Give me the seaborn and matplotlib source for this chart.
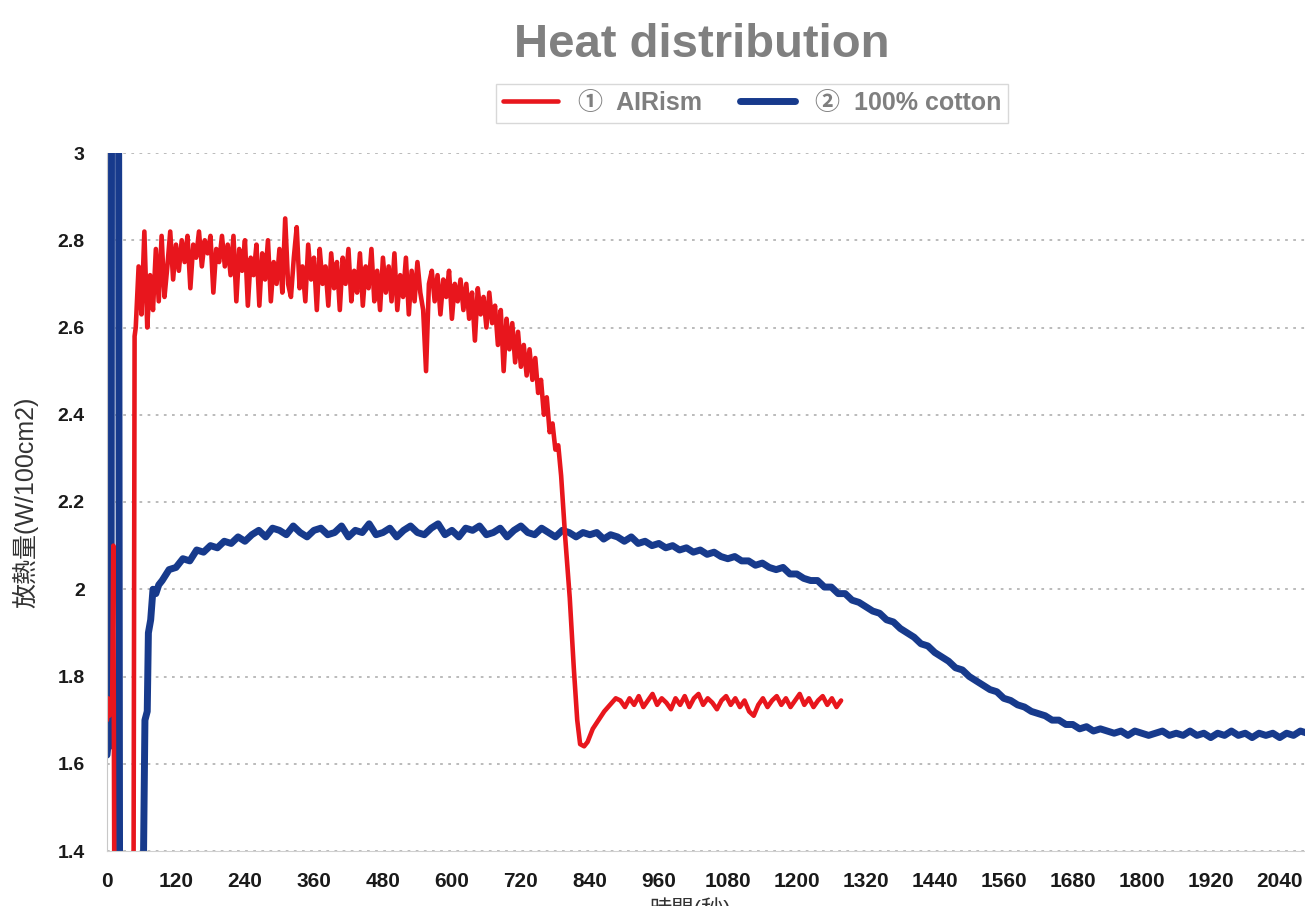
import numpy as np
import pandas as pd
import matplotlib
matplotlib.use("Agg")
import matplotlib.pyplot as plt
import seaborn as sns

# ---- data (time in s, heat release in W/100cm2) ----
# AIRism: start-up segment
red_start_t = [0, 2, 4, 6, 9, 11, 13, 46, 48]
red_start_v = [1.70, 1.75, 1.71, 1.72, 1.74, 2.10, 1.20, 1.20, 2.58]
# AIRism: noisy plateau, sampled every 5 s from t=50
red_plateau_v = [
    2.60, 2.74, 2.63, 2.82, 2.60, 2.72, 2.64, 2.78, 2.66, 2.81,
    2.67, 2.74, 2.82, 2.71, 2.79, 2.73, 2.80, 2.75, 2.81, 2.69,
    2.79, 2.76, 2.82, 2.74, 2.80, 2.77, 2.81, 2.68, 2.78, 2.75,
    2.81, 2.74, 2.79, 2.72, 2.81, 2.66, 2.78, 2.73, 2.80, 2.65,
    2.76, 2.72, 2.79, 2.65, 2.77, 2.71, 2.80, 2.66, 2.75, 2.70,
    2.78, 2.68, 2.85, 2.70, 2.67, 2.76, 2.83, 2.69, 2.74, 2.66,
    2.79, 2.71, 2.76, 2.64, 2.78, 2.70, 2.74, 2.65, 2.77, 2.69,
    2.75, 2.64, 2.76, 2.70, 2.78, 2.66, 2.73, 2.68, 2.77, 2.65,
    2.74, 2.69, 2.78, 2.66, 2.73, 2.64, 2.76, 2.68, 2.74, 2.66,
    2.77, 2.64, 2.72, 2.67, 2.76, 2.63, 2.73, 2.66, 2.75, 2.68,
    2.64, 2.50, 2.70, 2.73, 2.66, 2.72, 2.63, 2.71, 2.67, 2.73,
    2.62, 2.70, 2.66, 2.71, 2.64, 2.70, 2.62, 2.68, 2.57, 2.69,
    2.63, 2.67, 2.60, 2.68, 2.61, 2.65, 2.56, 2.64, 2.50, 2.62,
    2.55, 2.61, 2.52, 2.59, 2.51, 2.56, 2.49, 2.55, 2.48, 2.53,
    2.45, 2.48, 2.40, 2.44, 2.36, 2.38, 2.32, 2.33, 2.26,
]
# AIRism: the drop
red_drop_t = [797, 805, 812, 818, 823, 830, 836, 845, 855, 865, 875, 885]
red_drop_v = [2.12, 1.98, 1.82, 1.70, 1.645, 1.64, 1.65, 1.68, 1.70, 1.72, 1.735, 1.75]
# AIRism: low level, sampled every 8 s from t=893
red_flat_v = [
    1.745, 1.73, 1.75, 1.735, 1.755, 1.73, 1.745, 1.76, 1.735, 1.75,
    1.74, 1.725, 1.75, 1.735, 1.755, 1.73, 1.75, 1.76, 1.735, 1.75,
    1.74, 1.725, 1.745, 1.755, 1.735, 1.75, 1.73, 1.745, 1.72, 1.71,
    1.735, 1.75, 1.73, 1.745, 1.755, 1.735, 1.75, 1.73, 1.745, 1.76,
    1.735, 1.75, 1.73, 1.745, 1.755, 1.735, 1.75, 1.73, 1.745,
]

# 100% cotton: start-up segment
blue_start_t = [0, 3, 5, 7, 8, 20, 22, 62, 66, 70, 72, 76, 80, 85, 90]
blue_start_v = [1.62, 1.66, 1.64, 1.69, 3.30, 3.30, 1.20, 1.20, 1.70, 1.72,
                1.90, 1.93, 2.00, 1.99, 2.01]
# 100% cotton: sampled every 12 s from t=96
blue_main_v = [
    2.02, 2.045, 2.05, 2.07, 2.065, 2.09, 2.085, 2.10, 2.095, 2.11,
    2.105, 2.12, 2.11,
    2.125, 2.135, 2.12, 2.14, 2.135, 2.125, 2.145, 2.13, 2.12, 2.135,
    2.14, 2.125, 2.13, 2.145, 2.12, 2.135, 2.13, 2.15, 2.125, 2.13,
    2.14, 2.12, 2.135, 2.145, 2.13, 2.125, 2.14, 2.15, 2.125, 2.135,
    2.12, 2.14, 2.135, 2.145, 2.125, 2.13, 2.14, 2.12, 2.135, 2.145,
    2.13, 2.125, 2.14, 2.13, 2.12, 2.135, 2.13, 2.12, 2.13, 2.125,
    2.13, 2.115, 2.125, 2.12, 2.11, 2.12, 2.105, 2.11, 2.10, 2.105,
    2.095, 2.10, 2.09, 2.095, 2.085, 2.09, 2.08, 2.085, 2.075, 2.07,
    2.075, 2.065, 2.065, 2.055, 2.06, 2.05, 2.045, 2.05, 2.035, 2.035,
    2.025, 2.02, 2.02, 2.005, 2.005, 1.99, 1.99, 1.975, 1.97, 1.96,
    1.95, 1.945, 1.93, 1.925, 1.91, 1.90, 1.89, 1.875, 1.87, 1.855,
    1.845, 1.835, 1.82, 1.815, 1.80, 1.79, 1.78, 1.77, 1.765, 1.75,
    1.745, 1.735, 1.73, 1.72, 1.715, 1.71, 1.70, 1.70, 1.69, 1.69,
    1.68, 1.685, 1.675, 1.68, 1.675, 1.67, 1.675, 1.665, 1.675, 1.67,
    1.665, 1.67, 1.675, 1.665, 1.67, 1.665, 1.675, 1.665, 1.67, 1.66,
    1.67, 1.665, 1.675, 1.665, 1.67, 1.66, 1.67, 1.665, 1.67, 1.66,
    1.67, 1.665, 1.675, 1.67,
]

x_ticks = list(range(0, 2041, 120))
y_ticks = [1.4, 1.6, 1.8, 2.0, 2.2, 2.4, 2.6, 2.8, 3.0]
y_ticklabels = ["1.4", "1.6", "1.8", "2", "2.2", "2.4", "2.6", "2.8", "3"]

red_t = (red_start_t + list(50 + 5 * np.arange(len(red_plateau_v)))
         + red_drop_t + list(893 + 8 * np.arange(len(red_flat_v))))
red_v = red_start_v + red_plateau_v + red_drop_v + red_flat_v
blue_t = blue_start_t + list(96 + 12 * np.arange(len(blue_main_v)))
blue_v = blue_start_v + blue_main_v

df_red = pd.DataFrame({"t": red_t, "v": red_v})
df_blue = pd.DataFrame({"t": blue_t, "v": blue_v})

sns.set_style("white")
plt.rcParams["font.family"] = ["Liberation Sans", "Noto Sans CJK JP", "DejaVu Sans"]

fig = plt.figure(figsize=(13.05, 9.06), dpi=100)
ax = fig.add_axes([107 / 1305, 55 / 906, 1198 / 1305, 698 / 906])

red = "#e8161d"
navy = "#173a8c"
sns.lineplot(data=df_blue, x="t", y="v", ax=ax, color=navy, lw=5.0,
             estimator=None, sort=False, label="②  100% cotton")
sns.lineplot(data=df_red, x="t", y="v", ax=ax, color=red, lw=3.3,
             estimator=None, sort=False, label="①  AIRism")

ax.set_xlim(0, 2084)
ax.set_ylim(1.4, 3.0)
ax.set_xticks(x_ticks)
ax.set_yticks(y_ticks)
ax.set_yticklabels(y_ticklabels)
ax.yaxis.grid(True, linestyle=(0, (1.5, 3)), color="#b5b5b5", lw=1.3)
ax.xaxis.grid(False)
for s in ["top", "right"]:
    ax.spines[s].set_visible(False)
ax.spines["left"].set_color("#c8c8c8")
ax.spines["bottom"].set_color("#d0d0d0")
ax.tick_params(axis="y", length=0, pad=16, labelsize=14, labelcolor="#1a1a1a")
ax.tick_params(axis="x", direction="in", length=4, color="#aaaaaa",
               pad=15, labelsize=15, labelcolor="#1a1a1a")
for lab in ax.get_xticklabels() + ax.get_yticklabels():
    lab.set_fontweight("bold")

ax.set_ylabel("放熱量(W/100cm2)", fontsize=18, color="#333333")
ax.yaxis.set_label_coords(-0.0576, 0.5)
ax.set_xlabel("時間(秒)", fontsize=16, color="#333333")
ax.xaxis.set_label_coords(0.487, -0.066)

# legend: AIRism first, then cotton
h, l = ax.get_legend_handles_labels()
ax.legend_.remove()
leg = fig.legend([h[1], h[0]], [l[1], l[0]], loc="center", ncol=2,
                 bbox_to_anchor=(752 / 1305, 1 - 103 / 906), fontsize=18,
                 frameon=True, fancybox=False, edgecolor="#cfcfcf",
                 handlelength=2.2, columnspacing=1.5, borderpad=0.3)
for txt in leg.get_texts():
    txt.set_color("#7f7f7f")
    txt.set_fontweight("bold")

fig.suptitle("Heat distribution", x=702 / 1305, y=1 - 45 / 906, va="center",
             fontsize=34, fontweight="bold", color="#808080")

fig.savefig("out.png", dpi=100)
